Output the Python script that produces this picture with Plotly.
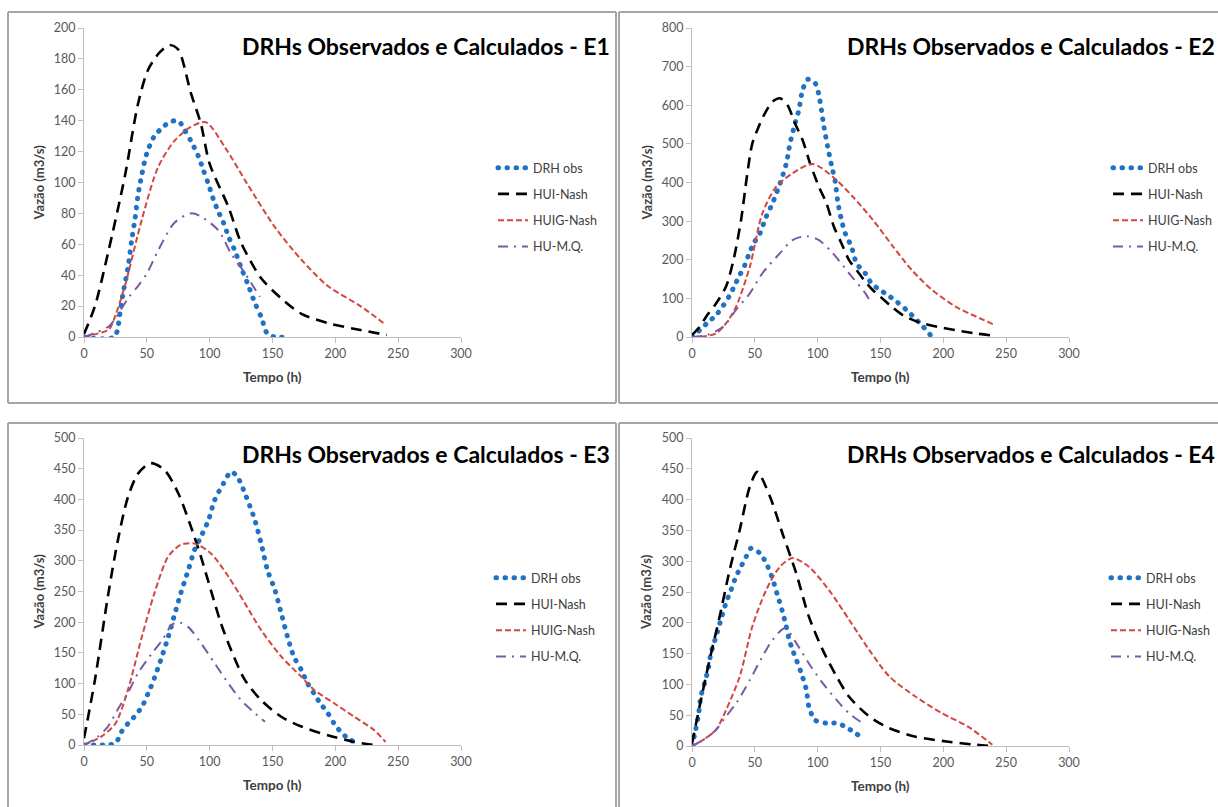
import plotly.graph_objects as go

W, H = 1218, 807

# ---------------- data ----------------
# Panel E1
e1_obs_t = [0, 24, 28.6, 31, 35, 38, 40.5, 43, 46, 50, 56, 63, 68, 75, 80, 85, 91, 95, 99, 103, 107, 111, 115, 120, 125, 130, 136, 141, 146, 152, 163]
e1_obs_q = [0, 0, 15, 28, 45, 63, 76, 92, 105, 119, 130, 136, 139, 140, 134, 127, 117, 108, 99, 89, 81, 74, 65, 56, 45, 35, 22, 13, 2, 0, 0]
e1_hui_t = [0, 8.7, 19, 32.5, 43, 51, 60, 68, 75, 85, 93, 100, 115, 125, 141, 157, 173, 194, 220, 241]
e1_hui_q = [2, 20, 54, 104, 151, 173, 184, 189, 186, 158, 138, 112, 84, 61, 38, 25, 15, 9, 4.5, 1.3]
e1_huig_t = [0, 10, 20, 24.6, 32.5, 46, 59, 72, 85, 97, 112, 130, 152, 173, 194, 220, 240]
e1_huig_q = [0, 2, 5, 13, 33, 76, 110, 127, 136, 139, 123, 99, 71, 50, 33, 20, 8]
e1_humq_t = [0, 10, 20, 25, 35, 43, 50, 59, 72, 85, 93, 107, 117, 125, 133, 140]
e1_humq_q = [0, 3, 7, 12, 25, 33, 41, 56, 74, 80, 78, 69, 54, 45, 35, 26]

# Panel E2
e2_obs_t = [0, 6, 13, 19, 25, 30, 34, 38, 42, 45, 49, 54, 59, 64, 70, 75, 78, 82, 85, 88, 92, 98, 101, 105, 108, 111, 114, 116, 119, 122, 127, 131, 138, 143, 150, 156, 163, 171, 183, 190]
e2_obs_q = [0, 17, 39, 56, 82, 108, 134, 160, 186, 212, 242, 268, 311, 346, 397, 449, 501, 553, 587, 639, 667, 657, 626, 544, 492, 445, 402, 350, 302, 268, 233, 190, 164, 138, 121, 108, 91, 69, 30, 4]
e2_hui_t = [0, 6, 12, 19, 27, 33, 39, 44, 48, 53, 58, 64, 70, 76, 82, 88, 94, 101, 107, 113, 119, 125, 131, 137, 144, 150, 159, 168, 180, 196, 211, 226, 239]
e2_hui_q = [5, 26, 56, 86, 130, 199, 302, 423, 501, 544, 579, 609, 618, 600, 553, 510, 449, 389, 346, 285, 242, 199, 173, 147, 121, 104, 78, 56, 39, 26, 17, 9, 4]
e2_huig_t = [0, 10, 19, 27, 35, 46, 56, 67, 80, 96, 112, 128, 144, 160, 175, 191, 210, 226, 241]
e2_huig_q = [0, 2, 9, 35, 78, 182, 320, 389, 424, 448, 415, 363, 303, 234, 173, 122, 78, 53, 31]
e2_humq_t = [0, 12, 25, 35, 46, 56, 70, 80, 91, 101, 112, 125, 138, 141]
e2_humq_q = [0, 5, 27, 70, 113, 165, 217, 251, 261, 251, 217, 165, 113, 97]

# Panel E3
e3_obs_t = [0, 9, 17, 25, 30, 35, 40, 46, 51, 56, 62, 67, 72, 77, 83, 88, 93, 99, 104, 111, 117, 122, 129, 136, 141, 146, 152, 157, 162, 167, 173, 178, 183, 188, 194, 199, 204, 210, 215]
e3_obs_q = [0, 0, 0, 3, 22, 35, 46, 62, 84, 109, 144, 176, 212, 247, 285, 318, 339, 366, 399, 426, 445, 437, 405, 366, 328, 285, 252, 214, 176, 144, 122, 100, 84, 68, 52, 35, 22, 11, 5]
e3_hui_t = [0, 8.7, 19, 27, 35, 43, 53, 64, 75, 85, 93, 101, 109, 117, 128, 141, 157, 173, 194, 215, 231]
e3_hui_q = [11, 106, 242, 334, 404, 442, 459, 448, 410, 356, 307, 252, 198, 155, 106, 73, 46, 30, 16, 5, 0]
e3_huig_t = [0, 14, 25, 35, 46, 56, 67, 77, 88, 101, 115, 128, 141, 157, 173, 183, 199, 215, 231, 240]
e3_huig_q = [0, 14, 35, 90, 176, 247, 307, 326, 328, 312, 274, 231, 187, 144, 111, 90, 68, 46, 24, 5]
e3_humq_t = [0, 10, 19, 28, 35, 43, 54, 62, 70, 75, 83, 93, 104, 115, 125, 136, 144]
e3_humq_q = [0, 12, 30, 62, 85, 117, 149, 170, 196, 200, 192, 166, 133, 100, 73, 52, 38]

# Panel E4
e4_obs_t = [0, 2, 5, 7, 10, 13, 15, 19, 23, 27, 31, 35, 39, 43, 47, 54, 59, 64, 68, 72, 75, 77, 80, 83, 87, 91, 93, 98, 107, 116, 122, 130, 137]
e4_obs_q = [0, 18, 48, 80, 102, 126, 150, 177, 205, 232, 253, 275, 291, 307, 321, 313, 297, 272, 245, 218, 194, 175, 156, 140, 118, 91, 64, 42, 37, 37, 31, 21, 10]
e4_hui_t = [0, 6, 14, 22, 30, 38, 46, 52, 62, 72, 83, 93, 104, 115, 125, 141, 157, 178, 204, 226, 239]
e4_hui_q = [4, 64, 140, 210, 286, 351, 421, 445, 405, 345, 280, 210, 156, 113, 80, 48, 29, 15, 7, 2, 0]
e4_huig_t = [0, 9, 19, 27, 38, 48, 59, 70, 80, 93, 109, 125, 141, 157, 178, 199, 220, 239]
e4_huig_q = [0, 10, 26, 58, 113, 194, 253, 291, 305, 291, 253, 205, 156, 113, 80, 53, 31, 2]
e4_humq_t = [0, 9, 19, 27, 35, 46, 56, 64, 74, 83, 93, 104, 115, 125, 138]
e4_humq_q = [0, 10, 26, 48, 69, 107, 145, 172, 191, 167, 134, 102, 75, 53, 34]

panels = [
    dict(name="E1", obs=(e1_obs_t, e1_obs_q), hui=(e1_hui_t, e1_hui_q), huig=(e1_huig_t, e1_huig_q), humq=(e1_humq_t, e1_humq_q), ymax=200, dy=20),
    dict(name="E2", obs=(e2_obs_t, e2_obs_q), hui=(e2_hui_t, e2_hui_q), huig=(e2_huig_t, e2_huig_q), humq=(e2_humq_t, e2_humq_q), ymax=800, dy=100),
    dict(name="E3", obs=(e3_obs_t, e3_obs_q), hui=(e3_hui_t, e3_hui_q), huig=(e3_huig_t, e3_huig_q), humq=(e3_humq_t, e3_humq_q), ymax=500, dy=50),
    dict(name="E4", obs=(e4_obs_t, e4_obs_q), hui=(e4_hui_t, e4_hui_q), huig=(e4_huig_t, e4_huig_q), humq=(e4_humq_t, e4_humq_q), ymax=500, dy=50),
]

series_names = ["DRH obs", "HUI-Nash", "HUIG-Nash", "HU-M.Q."]
series_keys = ["obs", "hui", "huig", "humq"]
OBS_COLOR = "#1f72c4"
series_style = {
    "obs": dict(color=OBS_COLOR, width=5, dash="0.5px,8.5px"),
    "hui": dict(color="#000000", width=2.6, dash="11px,7px"),
    "huig": dict(color="#d2473f", width=2, dash="6px,3px"),
    "humq": dict(color="#7a5aa6", width=2, dash="10px,6px,2px,6px"),
}

# ---------------- layout geometry (page pixels) ----------------
def px_x(p):
    return p / W

def px_y(p):
    return 1 - p / H

plot_boxes = [  # x0, x1, ytop, ybot in page pixels
    (84, 461, 28, 337),
    (692, 1069, 28, 337),
    (84, 461, 438, 745),
    (692, 1069, 438, 746),
]
# frame line segments (x0, y0, x1, y1) in page pixels
frame_lines = [
    (8, 12, 616, 12), (8, 12, 8, 403), (616, 12, 616, 403), (8, 403, 616, 403),
    (619, 12, 1218, 12), (619, 12, 619, 403), (619, 403, 1218, 403),
    (8, 423, 616, 423), (8, 423, 8, 807), (616, 423, 616, 807),
    (619, 423, 1218, 423), (619, 423, 619, 807),
]
title_pos = [(612, 46), (1217, 46), (612, 454), (1217, 454)]
legend_pos = [(493, 207), (1108, 207), (491, 617), (1106, 617)]

FONT = "Lato, 'Open Sans', sans-serif"

fig = go.Figure()
layout = dict(
    width=W, height=H, margin=dict(l=0, r=0, t=0, b=0, autoexpand=False),
    paper_bgcolor="white", plot_bgcolor="white",
    font=dict(family=FONT, color="#404040"),
    showlegend=True,
    annotations=[], shapes=[],
)

for i, p in enumerate(panels):
    k = i + 1
    xa = "x" if k == 1 else f"x{k}"
    ya = "y" if k == 1 else f"y{k}"
    lg = "legend" if k == 1 else f"legend{k}"
    for key, nm in zip(series_keys, series_names):
        t, q = p[key]
        st = series_style[key]
        fig.add_trace(go.Scatter(
            x=t, y=q, mode="lines", name=nm,
            line=dict(color=st["color"], width=st["width"], dash=st["dash"], shape="spline", smoothing=0.8),
            xaxis=xa, yaxis=ya, legend=lg, legendgroup=f"{nm}-{k}",
        ))
    x0, x1, yt, yb = plot_boxes[i]
    axis_common = dict(showgrid=False, zeroline=False, showline=True, linecolor="#bfbfbf", linewidth=1,
                       ticks="outside", ticklen=5, tickcolor="#bfbfbf", tickwidth=1, automargin=False,
                       tickfont=dict(family=FONT, size=12.5, color="#595959"))
    layout[f"xaxis{'' if k == 1 else k}"] = dict(domain=[px_x(x0), px_x(x1)], anchor=ya, range=[0, 300], dtick=50, tick0=0, **axis_common)
    layout[f"yaxis{'' if k == 1 else k}"] = dict(domain=[px_y(yb), px_y(yt)], anchor=xa, range=[0, p["ymax"]], dtick=p["dy"], tick0=0, **axis_common)

    lx, ly = legend_pos[i]
    layout[lg] = dict(x=px_x(lx), y=px_y(ly), xanchor="left", yanchor="middle", bgcolor="rgba(0,0,0,0)",
                      font=dict(family=FONT, size=12.5, color="#404040"), tracegroupgap=7, itemclick=False)

    tx, ty = title_pos[i]
    layout["annotations"].append(dict(text=f"<b>DRHs Observados e Calculados - {p['name']}</b>", x=px_x(tx), y=px_y(ty),
                                      xref="paper", yref="paper", xanchor="right", yanchor="middle", showarrow=False,
                                      font=dict(family=FONT, size=23, color="#000000")))
    layout["annotations"].append(dict(text="<b>Vazão (m3/s)</b>", x=px_x(x0 - 46), y=px_y((yt + yb) / 2), xref="paper", yref="paper",
                                      xanchor="center", yanchor="middle", textangle=-90, showarrow=False,
                                      font=dict(family=FONT, size=13, color="#404040")))
    layout["annotations"].append(dict(text="<b>Tempo (h)</b>", x=px_x((x0 + x1) / 2), y=px_y(yb + 40), xref="paper", yref="paper",
                                      xanchor="center", yanchor="middle", showarrow=False,
                                      font=dict(family=FONT, size=13.5, color="#404040")))

for (fx0, fy0, fx1, fy1) in frame_lines:
    layout["shapes"].append(dict(type="line", xref="paper", yref="paper", x0=px_x(fx0), x1=px_x(fx1), y0=px_y(fy0), y1=px_y(fy1),
                                 line=dict(color="#a6a6a6", width=2), layer="below"))

fig.update_layout(**layout)

post = """
document.body.style.margin='0';
document.body.style.overflow='hidden';
function roundDots(){
  document.querySelectorAll('path').forEach(function(p){
    if (p.style.stroke === 'rgb(31, 114, 196)') { p.style.strokeLinecap = 'round'; }
  });
}
roundDots();
setTimeout(roundDots, 50);
setTimeout(roundDots, 300);
var gdEl = document.getElementById('{plot_id}');
if (gdEl && gdEl.on) { gdEl.on('plotly_afterplot', roundDots); }
"""
fig.write_html("out.html", post_script=post, config={"displayModeBar": False})
